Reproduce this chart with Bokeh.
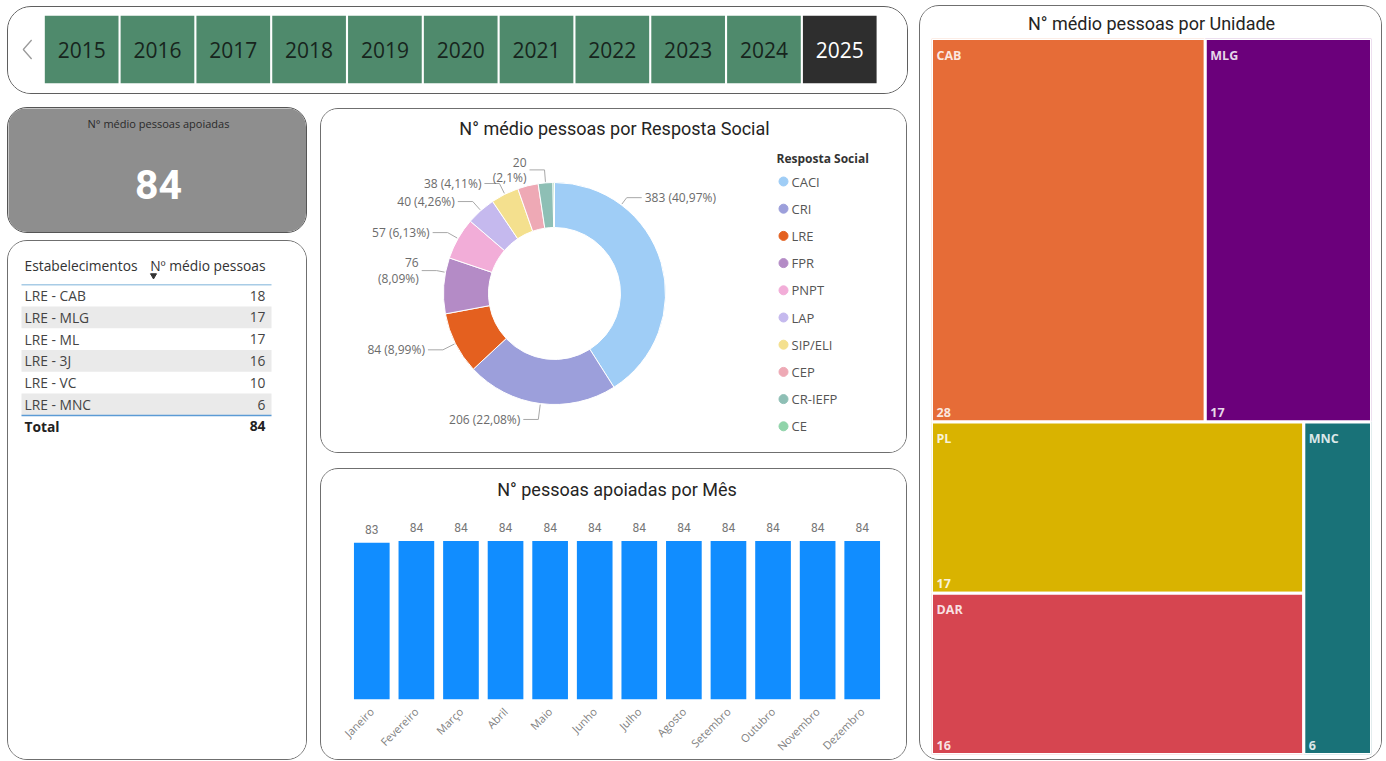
import math
from bokeh.plotting import figure
from bokeh.models import Range1d, FactorRange, ColumnDataSource
from bokeh.layouts import row, column
from bokeh.core.properties import value
from bokeh.embed import file_html
from bokeh.resources import INLINE

# ---------------- data ----------------
years = ["2015", "2016", "2017", "2018", "2019", "2020", "2021", "2022", "2023", "2024", "2025"]
selected_year = "2025"

kpi_title = "N° médio pessoas apoiadas"
kpi_value = 84

estabelecimentos = ["LRE - CAB", "LRE - MLG", "LRE - ML", "LRE - 3J", "LRE - VC", "LRE - MNC"]
media_estab = [18, 17, 17, 16, 10, 6]

respostas = ["CACI", "CRI", "LRE", "FPR", "PNPT", "LAP", "SIP/ELI", "CEP", "CR-IEFP", "CE"]
media_resposta = [383, 206, 84, 76, 57, 40, 38, 28, 20, 2]
rotulos_resposta = ["383 (40,97%)", "206 (22,08%)", "84 (8,99%)", "76\n(8,09%)", "57 (6,13%)",
                    "40 (4,26%)", "38 (4,11%)", "", "20\n(2,1%)", ""]
cores_resposta = ["#9FCDF6", "#9C9FDB", "#E4601F", "#B48BC6", "#F2ADD8",
                  "#C5B9EE", "#F4E08E", "#EEA9B5", "#8EBFB5", "#90D4AA"]

meses = ["Janeiro", "Fevereiro", "Março", "Abril", "Maio", "Junho", "Julho",
         "Agosto", "Setembro", "Outubro", "Novembro", "Dezembro"]
pessoas_mes = [83, 84, 84, 84, 84, 84, 84, 84, 84, 84, 84, 84]

unidades = ["CAB", "MLG", "PL", "DAR", "MNC"]
media_unidade = [28, 17, 17, 16, 6]
cores_unidade = ["#E66C37", "#6B007B", "#D9B300", "#D64550", "#197278"]

TITLE_FONT = "Roboto"
BODY_FONT = "Open Sans"
TITLE_COLOR = "#252423"


def card_style(radius=18, border="#6f6f6f"):
    return {"border": f"1.5px solid {border}", "border-radius": f"{radius}px",
            "box-sizing": "border-box", "overflow": "hidden"}


def card(width, height, x_range, y_range, fill="white", radius=18, border="#6f6f6f", **kw):
    opts = dict(min_border_left=0, min_border_right=0, min_border_top=0, min_border_bottom=0)
    opts.update(kw)
    p = figure(width=width, height=height, x_range=x_range, y_range=y_range,
               output_backend="svg", toolbar_location=None, frame_align=False,
               x_axis_type=None, y_axis_type=None, **opts)
    p.outline_line_color = None
    p.background_fill_color = fill
    p.border_fill_color = fill
    p.styles = card_style(radius, border)
    return p


# ---------------- year slicer ----------------
slicer = card(901, 88, Range1d(-0.965, 10.92), Range1d(0, 1), radius=24, border="#5f5f5f",
              min_border_top=8, min_border_bottom=12)
ys_src = ColumnDataSource(dict(
    x=list(range(len(years))), year=years,
    fill=["#2E2E2E" if y == selected_year else "#4F8A6C" for y in years],
    tc=["#FFFFFF" if y == selected_year else "#17251D" for y in years]))
slicer.rect(x="x", y=0.5, width=0.972, height=1.0, fill_color="fill", line_color=None, source=ys_src)
slicer.text(x="x", y=0.5, text="year", text_color="tc", text_align="center", text_baseline="middle",
            text_font=value(BODY_FONT), text_font_size="21px", source=ys_src)
slicer.line(x=[-0.66, -0.77, -0.66], y=[0.64, 0.5, 0.36], line_color="#9a9a9a", line_width=1.3)

# ---------------- KPI card ----------------
kpi = card(300, 126, Range1d(0, 1), Range1d(0, 1), fill="#8E8E8E", radius=20, border="#555555")
kpi.text(x=[0.5], y=[0.88], text=[kpi_title], text_align="center", text_baseline="middle",
         text_color="#2A2A2A", text_font=value(BODY_FONT), text_font_size="11px")
kpi.text(x=[0.5], y=[0.40], text=[str(kpi_value)], text_align="center", text_baseline="middle",
         text_color="#FFFFFF", text_font=value(TITLE_FONT), text_font_size="41px", text_font_style="bold")

# ---------------- table ----------------
TFS = "13.8px"
table = card(300, 520, Range1d(0, 300), Range1d(21.38, -2.48), radius=20)
idx = list(range(len(estabelecimentos)))
band_rows = [i for i in idx if i % 2 == 1]
table.rect(x=138, y=band_rows, width=250, height=1.0, fill_color="#EAEAEA", line_color=None)
table.text(x=[16], y=[-1.38], text=["Estabelecimentos"], text_align="left", text_baseline="middle",
           text_color="#333333", text_font=value(BODY_FONT), text_font_size=TFS)
table.text(x=[257], y=[-1.38], text=["Nº médio pessoas"], text_align="right", text_baseline="middle",
           text_color="#333333", text_font=value(BODY_FONT), text_font_size=TFS)
table.scatter(x=[145], y=[-0.92], marker="inverted_triangle", size=6, color="#333333")
table.segment(x0=[13], y0=[-0.5], x1=[263], y1=[-0.5], line_color="#A8CCE6", line_width=1.5)
table.segment(x0=[13], y0=[len(idx) - 0.5], x1=[263], y1=[len(idx) - 0.5], line_color="#5B9BD5", line_width=1.5)
table.text(x=[16] * len(idx), y=idx, text=estabelecimentos, text_align="left", text_baseline="middle",
           text_color="#444444", text_font=value(BODY_FONT), text_font_size=TFS)
table.text(x=[257] * len(idx), y=idx, text=[str(v) for v in media_estab], text_align="right",
           text_baseline="middle", text_color="#444444", text_font=value(BODY_FONT), text_font_size=TFS)
table.text(x=[16, 257], y=[len(idx)] * 2, text=["Total", str(sum(media_estab))], text_align=["left", "right"],
           text_baseline="middle", text_color="#222222", text_font=value(BODY_FONT), text_font_size=TFS,
           text_font_style="bold")

# ---------------- donut ----------------
DW, DH = 587, 345
donut = card(DW, DH, Range1d(0, DW), Range1d(0, DH))
cx, cy, r_in, r_out = 233, 161, 66, 111
total_r = sum(media_resposta)
starts, ends, mids = [], [], []
cum = 0.0
for v in media_resposta:
    f = v / total_r
    s_deg, e_deg = cum * 360, (cum + f) * 360
    starts.append(math.radians(90 - s_deg))
    ends.append(math.radians(90 - e_deg))
    mids.append((s_deg + e_deg) / 2)
    cum += f
d_src = ColumnDataSource(dict(start=starts, end=ends, color=cores_resposta, name=respostas))
donut.annular_wedge(x=cx, y=cy, inner_radius=r_in, outer_radius=r_out, start_angle="start",
                    end_angle="end", direction="clock", fill_color="color", line_color="white",
                    line_width=1, source=d_src)

angle_override = {"CACI": 37, "FPR": 281}
leader_ext = {"CRI": 16, "LRE": 14, "CR-IEFP": 13, "CACI": 9, "FPR": 9}
lxs, lys, tx, ty, tt, ta = [], [], [], [], [], []
for name, lab, mid in zip(respostas, rotulos_resposta, mids):
    if not lab:
        continue
    th = math.radians(angle_override.get(name, mid))
    dx, dy = math.sin(th), math.cos(th)
    side = 1 if dx >= 0 else -1
    ext = leader_ext.get(name, 12)
    p0 = (cx + (r_out + 1) * dx, cy + (r_out + 1) * dy)
    p1 = (cx + (r_out + ext) * dx, cy + (r_out + ext) * dy)
    p2 = (p1[0] + side * 15, p1[1])
    lxs.append([p0[0], p1[0], p2[0]])
    lys.append([p0[1], p1[1], p2[1]])
    tx.append(p2[0] + side * 3)
    ty.append(p2[1])
    tt.append(lab)
    ta.append("left" if side > 0 else "right")
donut.multi_line(xs=lxs, ys=lys, line_color="#A8A8A8", line_width=1)
donut.text(x=tx, y=ty, text=tt, text_align=ta, text_baseline="middle", text_color="#6B6B6B",
           text_font=value(BODY_FONT), text_font_size="12px", text_line_height=0.9)

donut.text(x=[293], y=[DH - 19], text=["N° médio pessoas por Resposta Social"], text_align="center",
           text_baseline="middle", text_color=TITLE_COLOR, text_font=value(TITLE_FONT), text_font_size="18px")

# legend
leg_y = [DH - (180 - 108) - 27.2 * i for i in range(len(respostas))]
donut.text(x=[455], y=[DH - (157 - 108)], text=["Resposta Social"], text_align="left", text_baseline="middle",
           text_color="#333333", text_font=value(BODY_FONT), text_font_size="12px", text_font_style="bold")
donut.scatter(x=[462] * len(respostas), y=leg_y, size=9, marker="circle", color=cores_resposta)
donut.text(x=[470] * len(respostas), y=leg_y, text=respostas, text_align="left", text_baseline="middle",
           text_color="#555555", text_font=value(BODY_FONT), text_font_size="13px")

# ---------------- monthly bars ----------------
bars = figure(width=587, height=292, x_range=FactorRange(factors=meses), y_range=Range1d(0, 101.7),
              output_backend="svg", toolbar_location=None, y_axis_type=None, frame_align=False,
              min_border_left=28, min_border_right=24, min_border_top=37, min_border_bottom=54,
              title="N° pessoas apoiadas por Mês")
bars.outline_line_color = None
bars.grid.visible = False
bars.styles = card_style(18)
bars.title.align = "center"
bars.title.text_font = TITLE_FONT
bars.title.text_font_size = "18px"
bars.title.text_font_style = "normal"
bars.title.text_color = TITLE_COLOR
bars.title.standoff = 15
b_src = ColumnDataSource(dict(m=meses, v=pessoas_mes, lab=[str(v) for v in pessoas_mes]))
bars.vbar(x="m", top="v", width=0.8, fill_color="#118DFF", line_color=None, source=b_src)
bars.text(x="m", y="v", text="lab", y_offset=-9, text_align="center", text_baseline="bottom",
          text_color="#777777", text_font=value(TITLE_FONT), text_font_size="12px", source=b_src)
bars.xaxis.axis_line_color = None
bars.xaxis.major_tick_line_color = None
bars.xaxis.minor_tick_line_color = None
bars.xaxis.major_label_orientation = math.pi / 4
bars.xaxis.major_label_text_color = "#808080"
bars.xaxis.major_label_text_font = BODY_FONT
bars.xaxis.major_label_text_font_size = "11px"
bars.xaxis.major_label_standoff = 4

# ---------------- treemap ----------------
tree = figure(width=463, height=755, x_range=Range1d(0, 1), y_range=Range1d(1, 0),
              output_backend="svg", toolbar_location=None, x_axis_type=None, y_axis_type=None,
              frame_align=False,
              min_border_left=11, min_border_right=12, min_border_top=31, min_border_bottom=7,
              title="N° médio pessoas por Unidade")
tree.outline_line_color = None
tree.styles = card_style(20)
tree.title.align = "center"
tree.title.text_font = TITLE_FONT
tree.title.text_font_size = "18px"
tree.title.text_font_style = "normal"
tree.title.text_color = TITLE_COLOR
tree.title.standoff = 9


def treemap_layout(vals):
    total = sum(vals)
    rects = []
    top_vals = vals[:2]
    h_top = sum(top_vals) / total
    x = 0.0
    for v in top_vals:
        w = v / sum(top_vals)
        rects.append((x, x + w, 0.0, h_top))
        x += w
    rest = vals[2:]
    col_a = rest[:2]
    w_a = sum(col_a) / sum(rest)
    y = h_top
    for v in col_a:
        h = (1 - h_top) * v / sum(col_a)
        rects.append((0.0, w_a, y, y + h))
        y += h
    rects.append((w_a, 1.0, h_top, 1.0))
    return rects


rects = treemap_layout(media_unidade)
t_src = ColumnDataSource(dict(
    left=[r[0] for r in rects], right=[r[1] for r in rects],
    top=[r[2] for r in rects], bottom=[r[3] for r in rects],
    color=cores_unidade, name=unidades, val=[str(v) for v in media_unidade]))
tree.quad(left="left", right="right", top="top", bottom="bottom", fill_color="color",
          line_color="white", line_width=3, source=t_src)
tree.text(x="left", y="top", text="name", x_offset=5, y_offset=8, text_align="left", text_baseline="top",
          text_color="white", text_alpha=0.85, text_font=value(BODY_FONT), text_font_size="12.5px",
          text_font_style="bold", source=t_src)
tree.text(x="left", y="bottom", text="val", x_offset=5, y_offset=-5, text_align="left",
          text_baseline="bottom", text_color="white", text_alpha=0.85, text_font=value(BODY_FONT),
          text_font_size="12.5px", text_font_style="bold", source=t_src)

# ---------------- layout ----------------
slicer.margin = (1, 0, 0, 0)
kpi.margin = (13, 0, 0, 0)
table.margin = (7, 0, 0, 0)
donut.margin = (14, 0, 0, 13)
bars.margin = (15, 0, 0, 13)
tree.margin = (0, 0, 0, 11)

left = column(slicer, row(column(kpi, table), column(donut, bars)))
root = row(left, tree)
root.margin = (5, 0, 0, 7)

open("out.html", "w").write(file_html(root, INLINE))
